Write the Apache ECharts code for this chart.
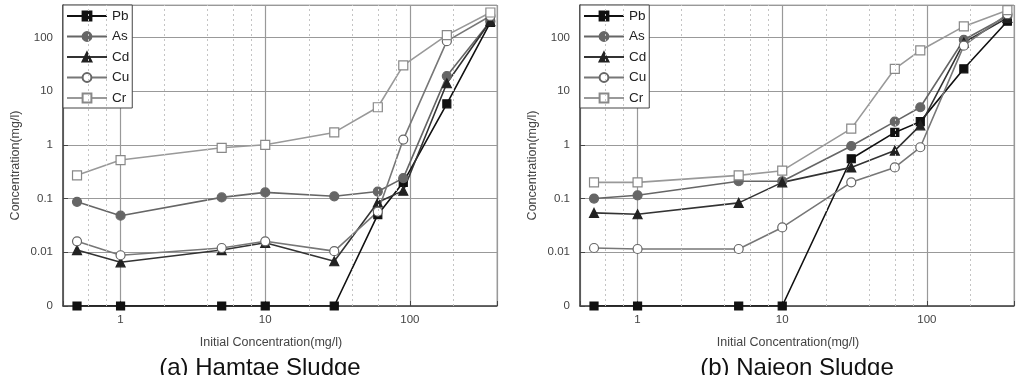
<!DOCTYPE html>
<html>
<head>
<meta charset="utf-8">
<script src="https://cdn.jsdelivr.net/npm/echarts@6/dist/echarts.min.js"></script>
<style>
  html, body { margin: 0; padding: 0; background: #fff; }
  #chart { width: 1017px; height: 375px; }
</style>
</head>
<body>
<div id="chart"></div>
<script>
// initial concentration (mg/l), shared by both panels
const initConc = [0.5, 1, 5, 10, 30, 60, 90, 180, 360];
const metals = ['Pb', 'As', 'Cd', 'Cu', 'Cr'];

// 0.001 = "0" at the bottom of the log axis
const hamtae = {
  Pb: [0.001, 0.001, 0.001, 0.001, 0.001, 0.05, 0.2, 5.8, 190],
  As: [0.087, 0.048, 0.105, 0.13, 0.11, 0.135, 0.24, 19, 200],
  Cd: [0.011, 0.0065, 0.011, 0.015, 0.0068, 0.085, 0.14, 14, 200],
  Cu: [0.016, 0.0088, 0.012, 0.016, 0.0105, 0.057, 1.25, 85, 250],
  Cr: [0.27, 0.52, 0.88, 1.0, 1.7, 5, 30, 110, 290]
};
const najeon = {
  Pb: [0.001, 0.001, 0.001, 0.001, 0.55, 1.7, 2.7, 26, 200],
  As: [0.1, 0.115, 0.21, 0.21, 0.95, 2.7, 5, 90, 250],
  Cd: [0.054, 0.051, 0.083, 0.2, 0.38, 0.78, 2.3, 80, 230],
  Cu: [0.012, 0.0115, 0.0115, 0.029, 0.2, 0.38, 0.9, 70, 270],
  Cr: [0.2, 0.2, 0.27, 0.33, 2.0, 26, 57, 160, 320]
};
const panelTitles = ['(a) Hamtae Sludge', '(b) Najeon Sludge'];
const minorX = [0.6, 0.8, 2, 4, 6, 8, 20, 40, 60, 80, 200];

const styles = {
  Pb: { line: '#111', fill: '#111', border: '#111', symbol: 'rect', size: 8 },
  As: { line: '#666', fill: '#666', border: '#666', symbol: 'circle', size: 9 },
  Cd: { line: '#333', fill: '#222', border: '#222', symbol: 'triangle', size: 9 },
  Cu: { line: '#777', fill: '#fff', border: '#666', symbol: 'circle', size: 9 },
  Cr: { line: '#999', fill: '#fff', border: '#888', symbol: 'rect', size: 9 }
};

const font = 'Liberation Sans, Arial, sans-serif';
const grids = [
  { left: 63, top: 5, width: 434, height: 301 },
  { left: 580, top: 5, width: 434, height: 301 }
];

function isPow10(v) {
  const l = Math.log10(v);
  return Math.abs(l - Math.round(l)) < 1e-6;
}

const chart = echarts.init(document.getElementById('chart'));

const option = {
  animation: false,
  textStyle: { fontFamily: font },
  grid: grids.map(g => Object.assign({ show: true, borderColor: '#aaa', borderWidth: 1 }, g)),
  title: panelTitles.map((t, i) => ({
    text: t,
    left: i === 0 ? 260 : 797,
    top: 356,
    textAlign: 'center',
    padding: 0,
    textStyle: { fontSize: 24, fontWeight: 'normal', color: '#111', fontFamily: font }
  })),
  legend: grids.map(g => ({
    orient: 'vertical',
    left: g.left,
    top: g.top,
    data: metals,
    itemWidth: 40,
    itemHeight: 11,
    itemGap: 6.5,
    padding: [4, 3, 3, 3],
    borderColor: '#444',
    borderWidth: 1,
    borderRadius: 0,
    backgroundColor: '#fff',
    textStyle: { fontSize: 13.5, color: '#222', fontFamily: font }
  })),
  xAxis: grids.map((g, i) => ({
    type: 'log',
    gridIndex: i,
    min: 0.4,
    max: 400,
    splitNumber: 3,
    name: 'Initial Concentration(mg/l)',
    nameLocation: 'middle',
    nameGap: 30,
    nameTextStyle: { fontSize: 12.5, color: '#444', padding: [0, 18, 0, 0] },
    axisLine: { lineStyle: { color: '#444', width: 1.5 } },
    axisTick: { inside: true, length: 5, lineStyle: { color: '#444' } },
    axisLabel: {
      margin: 8, fontSize: 11.5, color: '#444',
      formatter: v => isPow10(v) ? String(Math.round(v)) : ''
    },
    splitLine: { show: true, lineStyle: { color: '#999', width: 1.2 } }
  })),
  yAxis: grids.map((g, i) => ({
    type: 'log',
    gridIndex: i,
    min: 0.001,
    max: 400,
    name: 'Concentration(mg/l)',
    nameLocation: 'middle',
    nameGap: 41,
    nameTextStyle: { fontSize: 12.5, color: '#444', padding: [0, 20, 0, 0] },
    axisLine: { lineStyle: { color: '#444', width: 1.5 } },
    axisTick: { inside: true, length: 5, lineStyle: { color: '#444' } },
    axisLabel: {
      margin: 10, fontSize: 11.5, color: '#444',
      formatter: v => {
        if (!isPow10(v)) return '';
        const e = Math.round(Math.log10(v));
        if (e <= -3) return '0';
        return e < 0 ? v.toFixed(-e) : String(Math.round(v));
      }
    },
    splitLine: { show: true, lineStyle: { color: '#999', width: 1.2 } }
  })),
  series: []
};

[hamtae, najeon].forEach((set, gi) => {
  // dashed minor grid lines for the x axis
  option.series.push({
    type: 'line',
    xAxisIndex: gi,
    yAxisIndex: gi,
    data: [],
    z: 1,
    silent: true,
    markLine: {
      silent: true,
      symbol: 'none',
      label: { show: false },
      lineStyle: { color: '#c4c4c4', type: [2, 3], width: 1 },
      data: minorX.map(x => ({ xAxis: x }))
    }
  });
  metals.forEach(m => {
    const s = styles[m];
    option.series.push({
      name: m,
      type: 'line',
      xAxisIndex: gi,
      yAxisIndex: gi,
      data: initConc.map((x, k) => [x, set[m][k]]),
      symbol: s.symbol,
      symbolSize: s.size,
      clip: true,
      lineStyle: { color: s.line, width: 1.6 },
      itemStyle: { color: s.fill, borderColor: s.border, borderWidth: 1.2 }
    });
  });
});

chart.setOption(option);
</script>
</body>
</html>
